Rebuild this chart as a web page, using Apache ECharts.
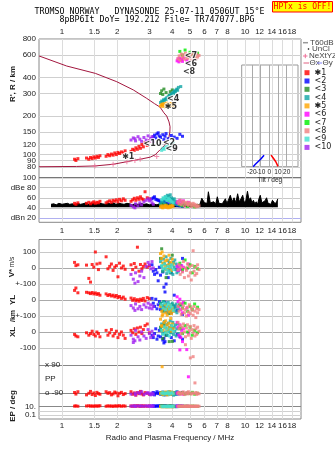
<!DOCTYPE html>
<html><head><meta charset="utf-8">
<script src="https://cdn.jsdelivr.net/npm/echarts@6/dist/echarts.min.js"></script>
<style>html,body{margin:0;padding:0;background:#fff}#c{width:335px;height:451px}</style>
</head><body><div id="c"></div>
<script>
// ---------- tick labels ----------
const freqTicks = [1,1.5,2,3,4,5,6,7,8,10,12,14,16,18];
const heightTicksA = [80,100,150,300,600];
const heightTicksB = [90,120,200,400,800];
const dbTicks = [20,40,60,80,100];
const tiltTicksA = [-20,0,20];
const tiltTicksB = [-10,10];

// ---------- profile (f MHz, real height km) ----------
const profile = [[0.748,590],[1.06,492],[1.52,431],[1.99,371],[2.45,320],[2.9,275],[3.2,250],[3.43,235],[3.6,212],[3.73,200],[3.84,180],[3.89,165],[3.88,150],[3.84,138],[3.65,119],[3.43,109],[3.22,99.5],[3.03,95.5],[2.67,92],[2.26,88],[1.9,84],[1.51,81.5],[1.2,80.8],[0.748,80.4]];
const nextyz = [[1.51,81.5],[1.9,84],[2.26,88],[2.5,90],[2.67,92],[3.29,96.5]];

// ---------- tilt inset (deg, km) ----------
const tiltX = [[2,99],[3,97],[4.5,94],[5.5,91],[7.5,88],[8.5,85],[10,81]];
const tiltY = [[-18.5,80.5],[-16,84],[-13,88],[-10,92],[-8,95],[-6,99]];

// ---------- noise (f MHz, dB) ----------
const noiseF = [0.87,0.9,0.93,0.96,1.0,1.03,1.07,1.1,1.14,1.18,1.22,1.26,1.3,1.35,1.4,1.45,1.5,1.55,1.6,1.66,1.72,1.78,1.84,1.9,1.97,2.04,2.11,2.18,2.26,2.34,2.42,2.5,2.6,2.7,2.8,2.9,3.0,3.1,3.2,3.3,3.4,3.5,3.6,3.7,3.8,3.9,4.0,4.15,4.3,4.45,4.6,4.75,4.9,5.05,5.2,5.35,5.5,5.65,5.8,
6.0,6.1,6.2,6.3,6.45,6.6,6.75,6.9,7.05,7.2,7.35,7.5,7.65,7.8,7.95,8.1,8.3,8.5,8.7,8.9,9.1,9.3,9.5,9.7,9.9,10.1,10.3,10.5,10.7,10.9,11.1,11.3,11.5,11.7,11.9,12.1,12.35,12.6,12.85,13.1,13.35,13.6,13.85,14.1,14.35,14.6,14.85,15.1];
const noiseDb = [47,48,46,49,47,48,49,47,48,46,49,47,48,50,47,49,48,47,49,48,47,49,48,50,47,49,48,47,49,48,46,48,47,49,47,48,46,48,47,46,48,46,47,45,47,46,45,47,46,45,47,46,45,47,46,45,47,46,59,
50,52,49,72,50,48,52,47,62,49,52,48,51,58,49,55,65,52,60,50,68,52,58,65,50,55,73,56,60,50,55,48,52,47,58,65,50,48,54,60,49,52,47,55,58,48,52,58];

// ---------- echo clusters: [f MHz, R km, dB, V* m/s, YL km, XL km, EP deg, PP] ----------
const clusterNames = ['\u27311','<2','<3','<4','\u27315','<6','<7','<8','<9','<10'];
const clusterColors = ['#ff0000','#0000ff','#228b22','#10a5a5','#ffa500','#ff00ff','#00ee00','#f08080','#40e0d0','#a020f0'];
const c1 = [[1.17,92,49,35,60,-15,-85,14],[1.19,90,47,15,75,-25,-95,16],[1.22,93,50,20,45,-30,-80,13],[1.36,94,49,18,48,-5,-100,15],[1.40,92,51,-65,45,-20,-90,17],[1.43,95,48,-88,40,-10,-78,14],[1.46,93,50,22,47,5,-98,15],[1.49,96,52,5,38,-15,-88,13],[1.52,94,49,100,44,-25,-104,16],[1.55,97,51,25,35,0,-84,14],[1.58,95,50,-10,40,-10,-92,15],[1.61,98,53,30,30,-30,-96,17],[1.74,97,50,70,38,10,-80,13],[1.78,100,52,-5,28,-20,-90,16],[1.82,98,54,10,34,-5,-86,14],[1.86,101,51,25,25,15,-100,15],[1.90,99,55,-15,30,-25,-94,12],[1.94,103,53,5,20,-10,-82,16],[1.98,100,56,15,28,5,-88,14],[2.02,104,52,-55,15,-35,-106,15],[2.06,102,57,30,22,-15,-90,17],[2.11,105,54,0,10,0,-84,13],[2.16,103,58,12,18,-20,-98,16],[2.21,107,55,-8,5,-40,-92,14],[2.38,106,53,20,12,10,-80,15],[2.43,110,56,-10,-2,-5,-96,13],[2.48,108,59,28,8,20,-88,16],[2.53,113,55,5,-5,-15,-102,14],[2.58,110,60,130,2,25,-86,17],[2.63,116,57,-20,-8,0,-92,15],[2.68,112,62,22,5,30,-78,13],[2.73,120,58,-5,-3,-10,-94,16],[2.78,115,56,10,10,15,-100,14],[2.84,124,72,25,-6,40,-86,15],[2.92,118,60,5,15,50,-90,13],[3.00,128,58,15,8,-5,-96,16]];
const c2 = [[3.10,132,58,20,10,-20,-95,14],[3.15,138,60,-20,-20,-35,-85,16],[3.20,142,62,-40,-40,-10,-100,13],[3.25,135,57,-10,5,20,-90,15],[3.30,145,56,-30,-55,-45,-80,14],[3.35,148,55,-80,-30,-25,-92,16],[3.40,140,54,5,-10,10,-88,15],[3.45,136,52,-45,-60,-30,-96,13],[3.55,143,50,-25,-35,-50,-84,14],[3.60,131,53,-120,-45,-40,230,15],[3.65,139,51,-150,-15,-60,-100,16],[3.70,146,49,-100,-70,-20,-86,14],[3.80,133,48,-60,-50,5,-94,13],[3.95,141,46,-30,-80,-35,-90,15],[4.10,137,47,-170,-40,-55,-98,14],[4.25,134,45,-10,-65,-15,-82,16],[4.40,144,44,190,-30,-30,-92,15],[4.55,139,43,60,-90,-45,-88,14]];
const c3 = [[3.45,300,47,60,-20,30,-90,15],[3.50,315,46,120,-40,10,-85,14],[3.55,295,48,-20,-70,-40,-95,16],[3.60,325,45,30,-10,50,-88,13],[3.70,305,47,-60,-55,-20,-92,15],[3.85,290,44,10,-85,-60,-86,16],[3.90,310,45,-30,-45,0,-94,15],[4.00,320,46,80,-30,20,240,14]];
const c4 = [[3.45,255,48,40,-20,20,-88,11],[3.50,262,52,10,-45,50,-95,12],[3.55,258,55,-20,-60,-10,-82,10],[3.58,268,58,55,-10,35,-100,13],[3.62,265,50,25,-35,65,-90,11],[3.66,272,62,-5,-70,0,-86,12],[3.70,270,56,70,-25,25,-97,10],[3.73,278,60,-35,-50,45,-84,11],[3.76,275,65,15,-80,-20,-92,13],[3.80,283,54,45,-15,55,-99,12],[3.83,280,63,-15,-40,10,-80,10],[3.86,288,58,30,-65,30,-91,11],[3.90,292,66,0,-30,70,-87,12],[3.93,286,52,60,-55,-5,-94,13],[3.96,298,60,-25,-75,40,-83,11],[4.00,295,57,20,-20,15,-96,10],[4.03,305,55,-40,-45,60,-89,12],[4.06,300,50,35,-60,-15,-102,11],[4.10,310,58,5,-35,30,-85,13],[4.13,315,48,50,-70,5,-93,10],[4.16,308,53,-10,-50,45,-90,12],[4.20,320,47,25,-25,-25,-98,11],[4.24,325,50,-30,-80,20,-81,10],[4.28,318,46,10,-40,50,-95,12],[4.32,335,49,-20,-60,-10,-88,11],[4.45,340,45,15,-30,25,-92,13]];
const c5 = [[3.45,240,42,90,-40,80,-92,11],[3.50,245,44,60,-70,40,-85,10],[3.52,248,41,100,-100,35,79,11],[3.55,238,40,30,-90,10,-98,12],[3.60,250,43,75,-55,60,-88,11],[3.65,243,45,10,-30,25,-95,10],[3.68,236,41,45,-80,70,-82,12],[3.72,252,44,-10,-60,0,-90,11],[3.75,247,42,50,-95,45,-100,10],[3.80,241,40,20,-45,15,-86,12],[3.84,249,43,80,-75,55,-94,11],[3.88,244,41,0,-35,30,-80,10],[3.92,239,44,35,-65,85,-96,12],[3.96,251,42,-15,-85,5,-89,11],[4.00,246,45,55,-50,50,-84,10],[4.04,242,43,25,-70,20,-92,12]];
const c6 = [[4.25,540,50,10,20,60,-90,13],[4.30,560,53,-15,-10,30,-85,12],[4.35,530,48,20,-40,-20,-95,14],[4.40,565,55,0,5,45,186,13],[4.45,548,47,-10,-60,-35,-88,12],[4.50,555,52,15,-25,10,-92,14],[4.55,535,49,-20,-80,-60,-84,13],[4.60,569,54,5,-15,20,-96,12],[4.80,545,46,-5,-50,-110,-90,14],[4.90,528,51,25,-95,-5,15,13]];
const c7 = [[4.40,640,46,30,-30,20,-90,13],[4.55,600,44,-10,-50,-10,-86,12],[4.70,656,48,50,-20,40,-94,14],[4.85,590,43,0,-70,0,-88,13],[5.00,630,47,20,-40,30,-92,12],[5.15,610,45,-30,-60,-20,-84,14],[5.30,580,42,10,-25,10,-96,13],[5.50,620,44,-5,-45,-5,-90,12]];
const c8 = [[4.30,560,52,-10,-40,60,-90,13],[4.36,590,48,20,-70,20,-84,12],[4.42,545,55,-40,-20,40,-96,14],[4.48,610,46,5,-90,-10,-88,13],[4.54,575,50,-25,-55,30,-92,12],[4.60,600,53,40,-35,50,-82,14],[4.66,555,44,-60,-80,0,-98,13],[4.72,620,49,0,-60,-30,219,12],[4.78,585,51,-15,-100,25,-86,14],[4.84,565,47,25,-45,45,-94,13],[4.90,605,45,-50,-75,-20,-80,12],[4.96,580,50,10,-30,10,-90,14],[5.02,595,48,-30,-85,35,135,13],[5.08,550,43,-75,-50,-40,-95,12],[5.14,615,46,15,-65,15,-87,14],[5.20,570,49,108,-95,-5,143,13],[5.26,600,44,-20,-40,40,-91,12],[5.32,588,47,-45,-70,-25,-24,14],[5.38,560,42,5,-110,20,-85,13],[5.44,610,45,-35,-55,-15,-97,12],[5.50,578,43,20,-80,30,-89,14],[5.60,595,44,-10,-60,5,-93,13]];
const c9 = [[3.50,108,56,15,-30,10,-90,12],[3.56,112,60,-5,-50,-15,-86,11],[3.62,110,58,25,-20,30,-94,13],[3.68,115,62,0,-60,-5,-88,12],[3.74,113,55,-15,-40,20,-92,11],[3.80,118,59,10,-25,0,-84,13],[3.86,116,57,-25,-55,-25,-96,12],[3.92,121,54,5,-35,15,-90,11],[3.98,119,52,20,-45,40,-86,13],[4.05,123,50,-10,-65,5,-94,12]];
const c10 = [[2.38,130,45,-40,-35,-20,-95,14],[2.45,135,42,-70,-50,-45,233,15],[2.50,133,40,-95,-65,-55,-90,15],[2.52,128,48,-30,-25,10,-100,13],[2.60,138,44,-85,-55,-30,-85,16],[2.66,132,50,-50,-40,-50,-92,14],[2.72,127,46,-20,-60,0,-80,15],[2.80,136,52,-60,-30,-25,-98,13],[2.88,130,55,10,-45,-40,-90,16],[2.95,140,58,35,-20,15,-86,14],[3.00,128,54,20,-50,-10,-94,15],[3.05,134,56,-5,-30,-35,-100,13],[3.10,138,50,40,-55,5,-88,16],[3.15,126,47,0,-40,-20,-96,14]];
const clusters = [c1,c2,c3,c4,c5,c6,c7,c8,c9,c10];
const clusterTags = [['\u27311',2.3,96],['<10',3.12,121],['<2',3.84,124],['<9',3.97,110],['\u27315',3.93,237],['<4',4.04,272],['<8',4.94,446],['<6',5.06,511],['<7',5.06,594]];

// ---------- build ----------
const L = Math.log10;
const X0 = L(0.748), X1 = L(20.2);
const FONT = 'Liberation Sans';
const lbl = (extra) => Object.assign({fontSize:8, color:'#222', fontFamily:FONT, hideOverlap:false, showMinLabel:true, showMaxLabel:true}, extra);
const fmtF = v => String(+Math.pow(10, v).toFixed(2));
const fmtH = v => String(Math.round(Math.pow(10, v)));

function xAx(gi, o) {
  const fv = freqTicks.map(L);
  return Object.assign({
    type:'value', gridIndex:gi, min:X0, max:X1, show:true,
    axisLine:{show:false}, axisTick:{show:false, customValues:fv},
    axisLabel:lbl({show:false, customValues:fv, formatter:fmtF}),
    splitLine:{show:true, lineStyle:{color:'#dcdcdc', width:1}}
  }, o);
}
function tiltAx(vals, o) {
  return Object.assign({type:'value', gridIndex:7, min:-31.7, max:33, position:'bottom', axisLine:{show:false},
   axisTick:{show:false, customValues:vals},
   axisLabel:lbl({fontSize:6.5, customValues:vals, margin:2}),
   splitLine:{show:true, lineStyle:{color:'#aaa'}}}, o || {});
}
const grids = [
  {left:39, top:39, width:262, height:138.7, show:true, borderColor:'#888', borderWidth:1},
  {left:39, top:177.7, width:262, height:44.6, show:true, borderColor:'#888', borderWidth:1},
  {left:39, top:239.5, width:262, height:179.5, show:true, borderColor:'#888', borderWidth:1},
  {left:39, top:239.5, width:262, height:179.5},
  {left:39, top:239.5, width:262, height:179.5},
  {left:39, top:239.5, width:262, height:179.5},
  {left:39, top:239.5, width:262, height:179.5},
  {left:241.7, top:65, width:56.3, height:101.7, show:true, borderColor:'#999', borderWidth:1, backgroundColor:'rgba(255,255,255,0)'}
];
const xAxes = [
  xAx(0, {position:'top', axisLabel:lbl({customValues:freqTicks.map(L), formatter:fmtF, margin:3})}),
  xAx(1, {position:'bottom', axisLabel:lbl({customValues:freqTicks.map(L), formatter:fmtF, margin:4})}),
  xAx(2, {position:'bottom', axisLabel:lbl({customValues:freqTicks.map(L), formatter:fmtF, margin:3}),
    name:'Radio and Plasma Frequency / MHz', nameLocation:'middle', nameGap:15, nameTextStyle:{fontSize:8, color:'#222', fontFamily:FONT}}),
  xAx(3, {show:false}), xAx(4, {show:false}), xAx(5, {show:false}), xAx(6, {show:false}),
  tiltAx(tiltTicksA, {name:'Tilt / deg', nameLocation:'middle', nameGap:9, nameTextStyle:{fontSize:6.5, color:'#222', fontFamily:FONT}}),
  tiltAx(tiltTicksB)
];
function yAx(gi, min, max, vals, fmt, colors, o) {
  return Object.assign({
    type:'value', gridIndex:gi, min:min, max:max, position:'left',
    axisLine:{show:false}, axisTick:{show:false, customValues:vals},
    axisLabel:lbl({customValues:vals, formatter:fmt, margin:3}),
    splitLine:{show:true, lineStyle:{color:colors, width:1}}
  }, o || {});
}
const HMIN = 2.9031 - 138.7/128, HMAX = L(800);
const yAxes = [
  yAx(0, HMIN, HMAX, heightTicksA.map(L), fmtH, '#cfcfcf'),
  yAx(1, 11.2, 100, dbTicks, v => v === 80 ? 'dBe 80' : v === 20 ? 'dBn 20' : String(v), ['#b0b0f0','#c8c8c8','#c8c8c8','#c8c8c8','#777']),
  yAx(2, -943.8, 178.1, [-100,0,100], v => v === -100 ? '+-100' : String(v), ['#c8c8c8','#aaa','#c8c8c8']),
  yAx(3, -743.8, 378.1, [-100,0], v => v === -100 ? '+-100' : '0', ['#c8c8c8','#aaa']),
  yAx(4, -543.8, 578.1, [-100,0], v => v === -100 ? '-100' : '0', ['#c8c8c8','#aaa']),
  yAx(5, -253.5, 888, [-90,0,90], v => v === 90 ? 'x 90' : v === -90 ? 'o -90' : 'PP', ['#888','rgba(0,0,0,0)','#888'],
      {axisLabel:lbl({customValues:[-90,0,90], formatter: v => v === 90 ? 'x 90' : v === -90 ? 'o -90' : 'PP', inside:true, margin:6})}),
  yAx(6, -1.96, 41.3, [-1,0,1], v => v === 1 ? '10.' : v === -1 ? '0.1' : '', ['#d0d0d0','#d0d0d0','#888']),
  {type:'value', gridIndex:7, min:1.9054, max:2.700, show:false},
  yAx(0, HMIN, HMAX, heightTicksB.map(L), fmtH, '#cfcfcf')
];

const series = [];
series.push({type:'line', name:'noise', xAxisIndex:1, yAxisIndex:1, silent:true, symbol:'none', z:2,
  data: noiseF.map((f, i) => [L(f), noiseDb[i]]),
  lineStyle:{color:'#000', width:1}, areaStyle:{color:'#000', opacity:1, origin:41}});
series.push({type:'line', name:'profile', xAxisIndex:0, yAxisIndex:0, silent:true, symbol:'none', z:2,
  data: profile.map(p => [L(p[0]), L(p[1])]), lineStyle:{color:'#a3173f', width:1}});
series.push({type:'scatter', name:'NeXtYZ', xAxisIndex:0, yAxisIndex:0, silent:true, z:4,
  symbol:'path://M4,0h2v4h4v2h-4v4h-2v-4h-4v-2h4z', symbolSize:5, itemStyle:{color:'#ee6f98'},
  data: nextyz.map(p => [L(p[0]), L(p[1])])});
series.push({type:'line', name:'tx', xAxisIndex:7, yAxisIndex:7, silent:true, symbol:'none', z:4,
  data: tiltX.map(p => [p[0], L(p[1])]), lineStyle:{color:'#ff0000', width:1.5}});
series.push({type:'line', name:'ty', xAxisIndex:7, yAxisIndex:7, silent:true, symbol:'none', z:4,
  data: tiltY.map(p => [p[0], L(p[1])]), lineStyle:{color:'#0000ff', width:1.5}});

const dims = [{c:1, g:0, log:true},{c:2, g:1},{c:3, g:2},{c:4, g:3},{c:5, g:4},{c:6, g:5},{c:7, g:6, log:true}];
clusters.forEach((rows, k) => {
  dims.forEach(d => {
    series.push({type:'scatter', name:clusterNames[k], xAxisIndex:d.g, yAxisIndex:d.g, silent:true, z:3,
      symbol:'rect', symbolSize:3, itemStyle:{color:clusterColors[k]},
      data: rows.map(r => [L(r[0]), d.log ? L(r[d.c]) : r[d.c]])});
  });
});
series.push({type:'scatter', name:'tags', xAxisIndex:0, yAxisIndex:0, silent:true, z:6, symbolSize:0,
  data: clusterTags.map(t => [L(t[1]), L(t[2]), t[0]]),
  label:{show:true, position:'inside', formatter: p => p.data[2], fontSize:8, fontWeight:'bold', color:'#000',
    textBorderColor:'#fff', textBorderWidth:2, fontFamily:'DejaVu Sans'}});

const T = (x, y, text, o) => ({type:'text', x:x, y:y, silent:true, z:10, ...(o && o.rot ? {rotation:Math.PI/2} : {}),
  style:{text:text, fill:(o && o.fill) || '#222', font:(o && o.font) || ('8px "' + FONT + '"'),
    align:(o && o.align) || 'left', textAlign:(o && o.align) || 'left', verticalAlign:'middle', textVerticalAlign:'middle'}});
const Ln = (x1, y1, x2, y2, c, w) => ({type:'line', silent:true, z:10, shape:{x1:x1, y1:y1, x2:x2, y2:y2}, style:{stroke:c, lineWidth:w || 1}});

const graphic = [
  {type:'rect', silent:true, z:10, shape:{x:272.5, y:1.5, width:60, height:10.5}, style:{fill:'#ffff00', stroke:'#ff0000', lineWidth:1}},
  T(302.5, 7, 'HPTx is OFF!', {fill:'#ff0000', font:'8px "DejaVu Sans Mono"', align:'center'}),
  T(149.5, 12, 'TROMSO NORWAY   DYNASONDE 25-07-11 0506UT 15\u00b0E', {font:'8.3px "DejaVu Sans Mono"', align:'center', fill:'#000'}),
  T(157, 20, '8pBP6It DoY= 192.212 File= TR747077.BPG', {font:'8.3px "DejaVu Sans Mono"', align:'center', fill:'#000'}),
  Ln(303, 42.7, 308, 42.7, '#999', 1.5), T(310, 42.7, 'T60dB', {fill:'#444'}),
  {type:'circle', silent:true, z:10, shape:{cx:308.5, cy:49, r:0.8}, style:{fill:'#000'}}, T(312, 49, 'UnCl', {fill:'#444'}),
  Ln(303, 56, 307.5, 56, '#ee6f98', 1), Ln(305.3, 53.8, 305.3, 58.2, '#ee6f98', 1), T(309, 56, 'NeXtYZ', {fill:'#444'}),
  Ln(303.5, 63, 309, 63, '#e06080', 1), T(309.5, 63, '\u0398x', {fill:'#444'}),
  Ln(317, 63, 322, 63, '#8080ff', 1), T(322.5, 63, '\u0398y', {fill:'#444'}),
  T(13, 84, "R', R / km", {rot:true, font:'bold 8px "' + FONT + '"', align:'center'}),
  T(12, 273, 'V*', {rot:true, font:'bold 8px "' + FONT + '"', align:'center'}),
  T(12, 262, 'm/s', {rot:true, font:'6.5px "' + FONT + '"', align:'center'}),
  T(13, 300, 'YL', {rot:true, font:'bold 8px "' + FONT + '"', align:'center'}),
  T(13, 316, '/km', {rot:true, font:'bold 7px "' + FONT + '"', align:'center'}),
  T(13, 332, 'XL', {rot:true, font:'bold 8px "' + FONT + '"', align:'center'}),
  T(13, 406, 'EP / deg', {rot:true, font:'bold 8px "' + FONT + '"', align:'center'})
];

const chart = echarts.init(document.getElementById('c'), null, {renderer:'canvas'});
chart.setOption({
  animation:false, backgroundColor:'#fff',
  grid:grids, xAxis:xAxes, yAxis:yAxes, series:series, graphic:graphic,
  legend:{orient:'vertical', left:304.5, top:68.7, padding:0, itemWidth:5, itemHeight:5, itemGap:0.3, icon:'rect',
    selectedMode:false, data:clusterNames, textStyle:{fontSize:8, color:'#222', fontFamily:'DejaVu Sans'}}
});
</script></body></html>
